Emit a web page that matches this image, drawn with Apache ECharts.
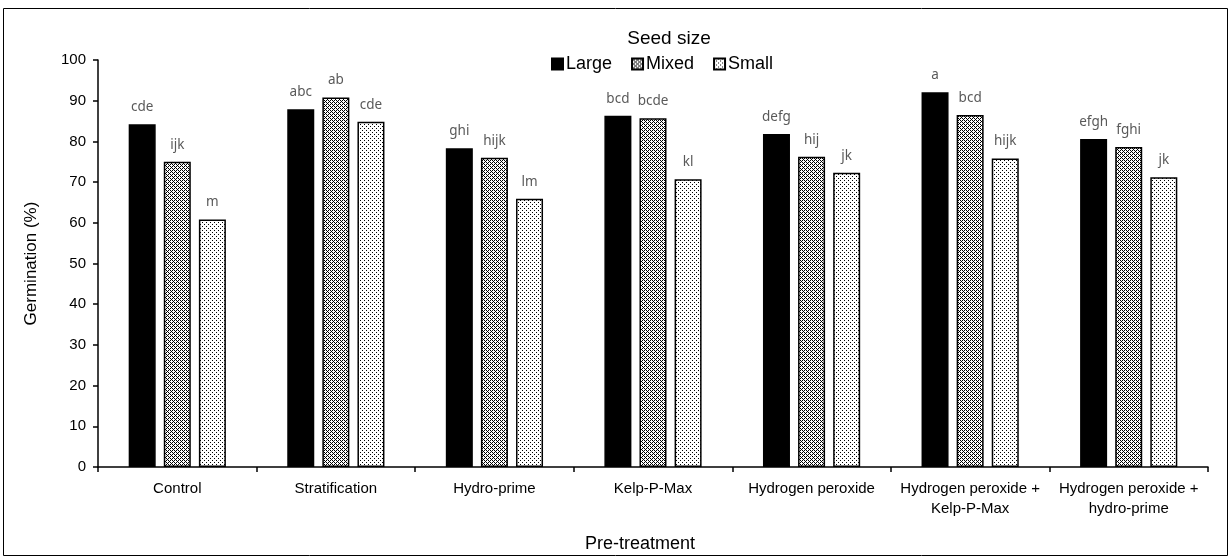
<!DOCTYPE html>
<html>
<head>
<meta charset="utf-8">
<style>
  html, body { margin: 0; padding: 0; background: #fff; }
  #chart { width: 1231px; height: 559px; }
</style>
<script src="https://cdn.jsdelivr.net/npm/echarts@6/dist/echarts.min.js"></script>
</head>
<body>
<div id="chart"></div>
<script>
// Pre-treatments on the x axis
const categories = [
  'Control', 'Stratification', 'Hydro-prime', 'Kelp-P-Max', 'Hydrogen peroxide',
  'Hydrogen peroxide +\nKelp-P-Max', 'Hydrogen peroxide +\nhydro-prime'
];

// Germination (%) by seed size
const largeValues = [84.2, 87.9, 78.3, 86.3, 81.8, 92.1, 80.6];
const mixedValues = [75.0, 90.8, 76.0, 85.7, 76.2, 86.5, 78.6];
const smallValues = [60.8, 84.8, 65.9, 70.7, 72.3, 75.8, 71.2];

// Significance letters above each bar
const largeLetters = ['cde', 'abc', 'ghi', 'bcd', 'defg', 'a', 'efgh'];
const mixedLetters = ['ijk', 'ab', 'hijk', 'bcde', 'hij', 'bcd', 'fghi'];
const smallLetters = ['m', 'cde', 'lm', 'kl', 'jk', 'hijk', 'jk'];

const yTicks = { min: 0, max: 100, interval: 10 };

// Small bitmap fills for the patterned bars
function makePattern(size, dots) {
  const c = document.createElement('canvas');
  c.width = size; c.height = size;
  const ctx = c.getContext('2d');
  ctx.fillStyle = '#fff';
  ctx.fillRect(0, 0, size, size);
  ctx.fillStyle = '#000';
  dots.forEach(([x, y]) => ctx.fillRect(x, y, 1, 1));
  return { image: c, repeat: 'repeat' };
}
const mixedFill = makePattern(4, [[0, 0], [2, 0], [1, 1], [0, 2], [2, 2], [3, 3]]);
const smallFill = makePattern(4, [[0, 0], [2, 2]]);

const baseFont = 'Liberation Sans, Arial, sans-serif';
const letterStyle = {
  show: true,
  position: 'top',
  distance: 10,
  color: '#595959',
  fontFamily: 'Noto Sans, Open Sans, sans-serif',
  fontSize: 13.5
};

function barSeries(name, values, letters, fill) {
  return {
    name: name,
    type: 'bar',
    barWidth: 27,
    barGap: '30%',
    data: values,
    itemStyle: { color: fill, borderColor: '#000', borderWidth: 1.5 },
    label: Object.assign({}, letterStyle, {
      formatter: p => letters[p.dataIndex]
    })
  };
}

const chart = echarts.init(document.getElementById('chart'), null, { renderer: 'canvas' });
chart.setOption({
  animation: false,
  backgroundColor: '#fff',
  title: {
    text: 'Seed size',
    left: 664,
    top: 24,
    textAlign: 'center',
    textStyle: { fontFamily: baseFont, fontSize: 19, fontWeight: 'normal', color: '#000' }
  },
  legend: {
    left: 546,
    top: 50,
    itemWidth: 11,
    itemHeight: 11,
    itemGap: 19,
    icon: 'rect',
    textStyle: { fontFamily: baseFont, fontSize: 18, color: '#000', padding: [0, 0, 0, -2] },
    data: ['Large', 'Mixed', 'Small']
  },
  graphic: [{
    type: 'rect',
    shape: { x: 3.5, y: 8.5, width: 1224, height: 547 },
    style: { fill: 'none', stroke: '#000', lineWidth: 1 },
    silent: true
  }],
  grid: { left: 98, right: 23, top: 60, bottom: 92 },
  xAxis: {
    type: 'category',
    data: categories,
    name: 'Pre-treatment',
    nameLocation: 'middle',
    nameGap: 68,
    nameTextStyle: { fontFamily: baseFont, fontSize: 18, color: '#000', padding: [0, 26, 0, 0] },
    axisLine: { lineStyle: { color: '#000', width: 1.5 } },
    axisTick: { show: true, length: 5, lineStyle: { color: '#000', width: 1.5 } },
    axisLabel: {
      fontFamily: baseFont, fontSize: 15, color: '#000', margin: 12,
      interval: 0, lineHeight: 20
    }
  },
  yAxis: {
    type: 'value',
    min: yTicks.min,
    max: yTicks.max,
    interval: yTicks.interval,
    name: 'Germination (%)',
    nameLocation: 'middle',
    nameGap: 58,
    nameTextStyle: { fontFamily: baseFont, fontSize: 17, color: '#000' },
    splitLine: { show: false },
    axisLine: { show: true, lineStyle: { color: '#000', width: 1.5 } },
    axisTick: { show: true, length: 5, lineStyle: { color: '#000', width: 1.5 } },
    axisLabel: { fontFamily: baseFont, fontSize: 15, color: '#000', margin: 12 }
  },
  series: [
    barSeries('Large', largeValues, largeLetters, '#000'),
    barSeries('Mixed', mixedValues, mixedLetters, mixedFill),
    barSeries('Small', smallValues, smallLetters, smallFill)
  ]
});
</script>
</body>
</html>
